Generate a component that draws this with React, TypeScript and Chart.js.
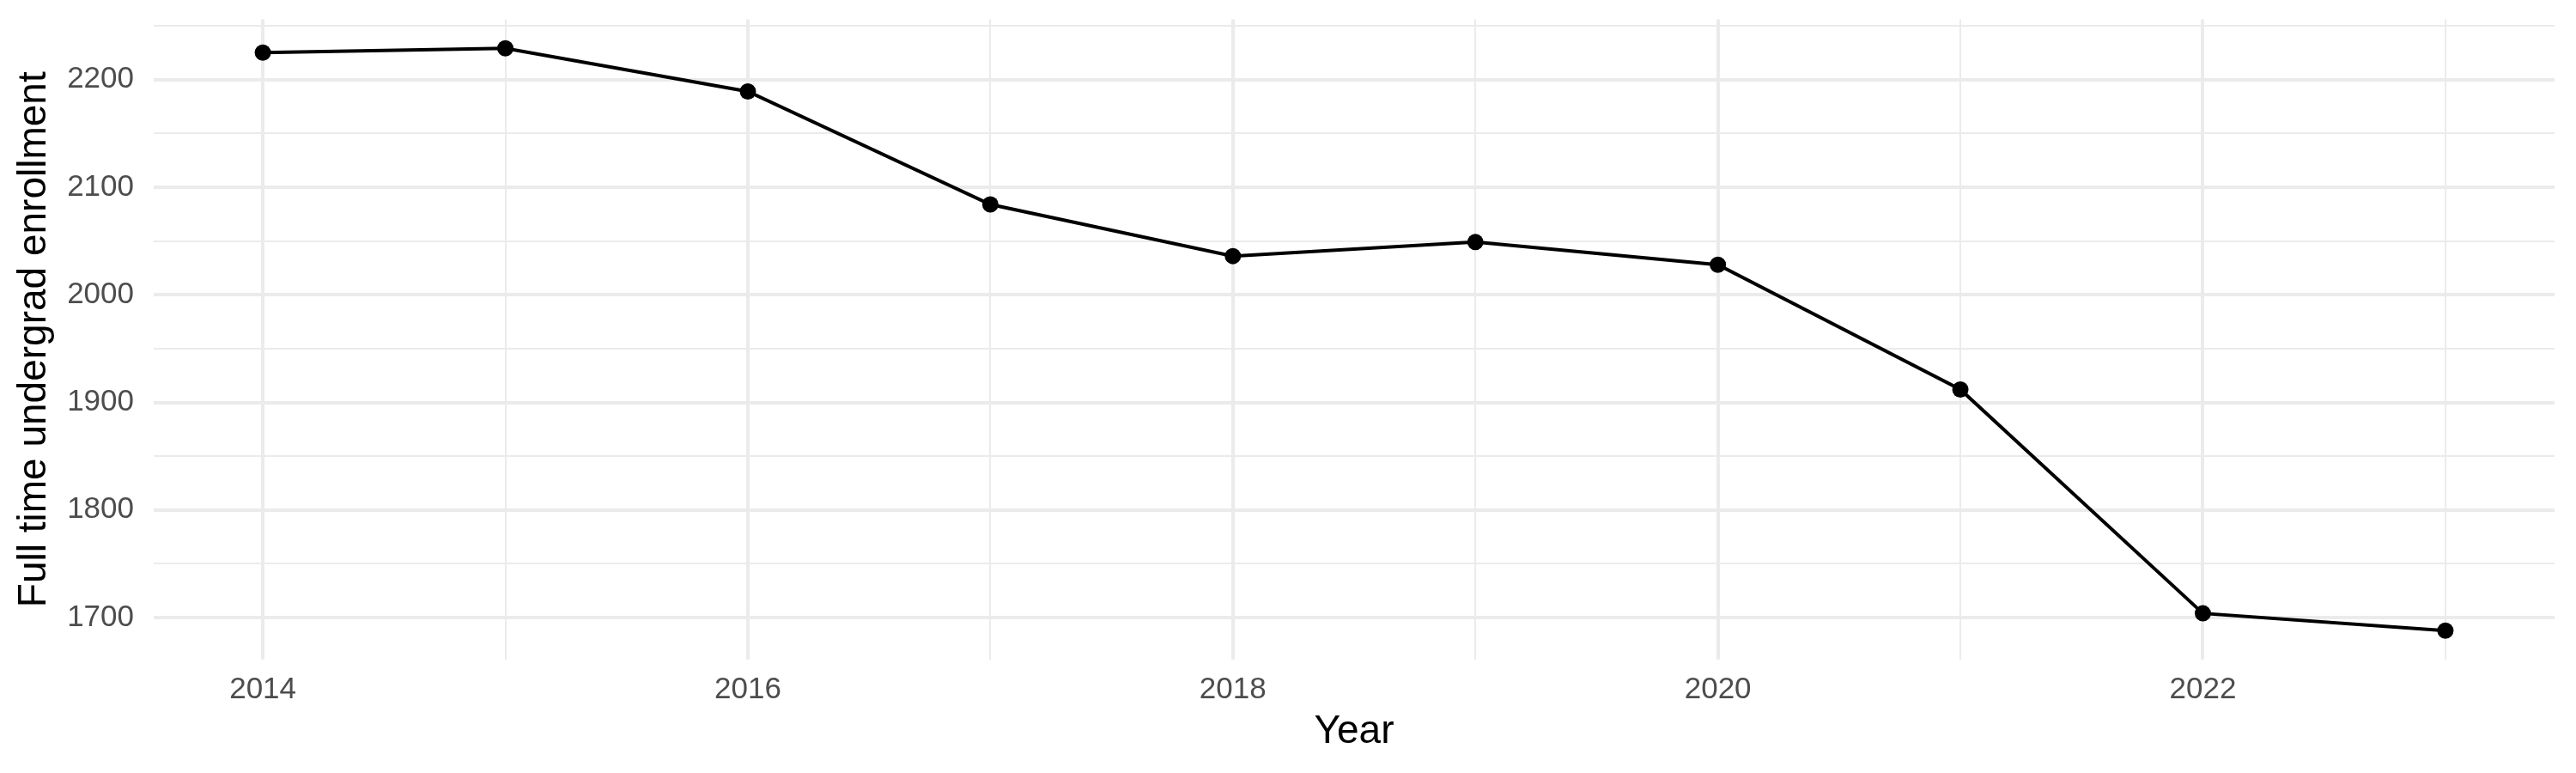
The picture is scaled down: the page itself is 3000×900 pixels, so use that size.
import React, { useEffect, useRef } from "react";
import { Chart, registerables } from "chart.js";

Chart.register(...registerables);

const years = [2014, 2015, 2016, 2017, 2018, 2019, 2020, 2021, 2022, 2023];
const enrollment = [2225, 2229, 2189, 2084, 2036, 2049, 2028, 1912, 1704, 1688];
const xTickValues = [2014, 2015, 2016, 2017, 2018, 2019, 2020, 2021, 2022, 2023];
const yTickValues = [1700, 1750, 1800, 1850, 1900, 1950, 2000, 2050, 2100, 2150, 2200, 2250];
const xTitle = "Year";
const yTitle = "Full time undergrad enrollment";

const FONT = "'Liberation Sans', Arial, Helvetica, sans-serif";
const GRID = "#EBEBEB";

export default function App() {
  const canvasRef = useRef<HTMLCanvasElement | null>(null);

  useEffect(() => {
    document.body.style.margin = "0";
    const canvas = canvasRef.current;
    if (!canvas) return;
    const chart = new Chart(canvas, {
      type: "line",
      data: {
        datasets: [
          {
            data: years.map((y, i) => ({ x: y, y: enrollment[i] })),
            borderColor: "#000000",
            backgroundColor: "#000000",
            borderWidth: 4,
            pointRadius: 9.5,
            pointBorderWidth: 0,
            pointBackgroundColor: "#000000",
            tension: 0,
            fill: false,
          },
        ],
      },
      options: {
        animation: false,
        responsive: false,
        devicePixelRatio: 1,
        layout: { padding: { left: 0, right: 25, top: 22.5, bottom: 0 } },
        plugins: {
          legend: { display: false },
          tooltip: { enabled: false },
        },
        scales: {
          x: {
            type: "linear",
            min: 2013.55,
            max: 2023.45,
            afterBuildTicks: (scale: any) => {
              scale.ticks = xTickValues.map((v) => ({ value: v }));
            },
            afterFit: (scale: any) => {
              scale.height = 132;
              scale.paddingLeft = 0;
              scale.paddingRight = 0;
            },
            ticks: {
              autoSkip: false,
              maxRotation: 0,
              padding: 14,
              color: "#4D4D4D",
              font: { family: FONT, size: 35 },
              callback: (v: any) => (Number(v) % 2 === 0 ? String(v) : ""),
            },
            grid: {
              color: GRID,
              drawTicks: false,
              lineWidth: (ctx: any) =>
                ctx.tick && ctx.tick.value % 2 === 0 ? 4 : 2,
            },
            border: { display: false },
            title: {
              display: true,
              text: xTitle,
              color: "#000000",
              font: { family: FONT, size: 46 },
              padding: { top: 0, bottom: 20 },
            },
          },
          y: {
            type: "linear",
            min: 1661,
            max: 2256,
            afterBuildTicks: (scale: any) => {
              scale.ticks = yTickValues.map((v) => ({ value: v }));
            },
            afterFit: (scale: any) => {
              scale.width = 179;
              scale.paddingTop = 0;
              scale.paddingBottom = 0;
            },
            ticks: {
              autoSkip: false,
              padding: 23,
              color: "#4D4D4D",
              font: { family: FONT, size: 35 },
              callback: (v: any) => (Number(v) % 100 === 0 ? String(v) : ""),
            },
            grid: {
              color: GRID,
              drawTicks: false,
              lineWidth: (ctx: any) =>
                ctx.tick && ctx.tick.value % 100 === 0 ? 4 : 2,
            },
            border: { display: false },
            title: {
              display: true,
              text: yTitle,
              color: "#000000",
              font: { family: FONT, size: 46 },
              padding: { top: 13, bottom: 0 },
            },
          },
        },
      },
    });
    return () => {
      chart.destroy();
    };
  }, []);

  return (
    <div style={{ position: "absolute", left: 0, top: 0, width: 3000, height: 900, background: "#ffffff" }}>
      <canvas ref={canvasRef} width={3000} height={900} style={{ display: "block" }} />
    </div>
  );
}
